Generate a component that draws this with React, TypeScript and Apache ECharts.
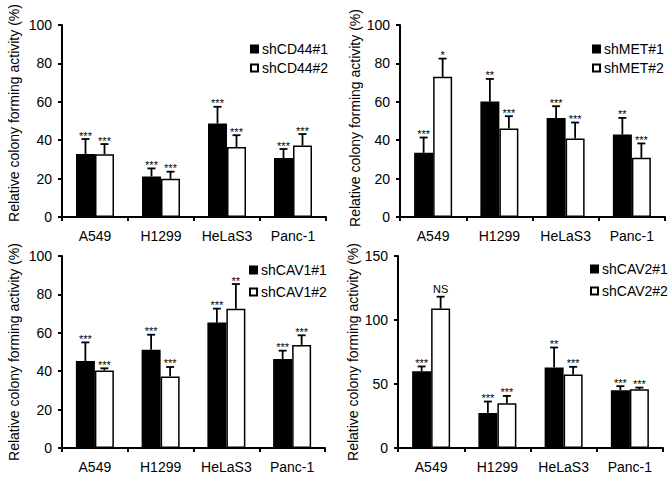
import React, { useEffect, useRef } from "react";
import * as echarts from "echarts";

const categories = ["A549", "H1299", "HeLaS3", "Panc-1"];

// Panel A: shCD44
const cd44Names = ["shCD44#1", "shCD44#2"];
const cd44First = [32.8, 21.1, 48.7, 30.7];
const cd44FirstSd = [7.8, 4.2, 8.7, 4.7];
const cd44Second = [32.7, 19.9, 36.4, 37.3];
const cd44SecondSd = [5.3, 3.7, 6.2, 5.9];
const cd44FirstSig = ["***", "***", "***", "***"];
const cd44SecondSig = ["***", "***", "***", "***"];

// Panel B: shMET
const metNames = ["shMET#1", "shMET#2"];
const metFirst = [33.4, 60.1, 51.5, 43.0];
const metFirstSd = [8.0, 11.8, 6.2, 8.6];
const metSecond = [73.0, 46.1, 40.9, 30.8];
const metSecondSd = [9.5, 6.4, 8.3, 7.5];
const metFirstSig = ["***", "**", "***", "**"];
const metSecondSig = ["*", "***", "***", "***"];

// Panel C: shCAV1
const cav1Names = ["shCAV1#1", "shCAV1#2"];
const cav1First = [45.3, 51.2, 65.3, 46.3];
const cav1FirstSd = [9.7, 7.8, 7.3, 4.4];
const cav1Second = [40.4, 37.3, 72.5, 53.7];
const cav1SecondSd = [1.1, 4.9, 12.9, 5.0];
const cav1FirstSig = ["***", "***", "***", "***"];
const cav1SecondSig = ["***", "***", "**", "***"];

// Panel D: shCAV2
const cav2Names = ["shCAV2#1", "shCAV2#2"];
const cav2First = [60.0, 27.4, 62.9, 45.1];
const cav2FirstSd = [3.7, 8.9, 15.6, 3.2];
const cav2Second = [109.0, 35.0, 57.4, 45.9];
const cav2SecondSd = [9.2, 5.7, 6.0, 1.3];
const cav2FirstSig = ["***", "***", "**", "***"];
const cav2SecondSig = ["NS", "***", "***", "***"];

const yMaxes = [100, 100, 100, 150];
const yIntervals = [20, 20, 20, 50];
const yTitle = "Relative colony forming activity (%)";

const FONT = "'Liberation Sans', Arial, Helvetica, sans-serif";
const BAR_W = 19;

const panels = [
  { names: cd44Names, a: cd44First, aSd: cd44FirstSd, b: cd44Second, bSd: cd44SecondSd, aSig: cd44FirstSig, bSig: cd44SecondSig },
  { names: metNames, a: metFirst, aSd: metFirstSd, b: metSecond, bSd: metSecondSd, aSig: metFirstSig, bSig: metSecondSig },
  { names: cav1Names, a: cav1First, aSd: cav1FirstSd, b: cav1Second, bSd: cav1SecondSd, aSig: cav1FirstSig, bSig: cav1SecondSig },
  { names: cav2Names, a: cav2First, aSd: cav2FirstSd, b: cav2Second, bSd: cav2SecondSd, aSig: cav2FirstSig, bSig: cav2SecondSig },
];

const gridBoxes = [
  { left: 62, top: 25, width: 264, height: 192 },
  { left: 400, top: 25, width: 265, height: 192 },
  { left: 62, top: 256, width: 263, height: 192 },
  { left: 398, top: 256, width: 265, height: 192 },
];

const legendBoxes = [
  { left: 250, top: 42, itemGap: 5 },
  { left: 592, top: 42, itemGap: 5 },
  { left: 249, top: 263, itemGap: 8 },
  { left: 590, top: 262, itemGap: 8 },
];

// shift of the rotated y-axis title along the axis (px, upward)
const titleShift = [16, 6, 0, 0];

function errorSeries(idx: number, values: number[], sds: number[], sigs: string[], offset: number) {
  return {
    type: "custom",
    xAxisIndex: idx,
    yAxisIndex: idx,
    z: 5,
    silent: true,
    itemStyle: { color: "#000" },
    data: values.map((v, i) => [i, v, sds[i]]),
    renderItem: (params: any, api: any) => {
      const cat = api.value(0);
      const v = api.value(1);
      const sd = api.value(2);
      const base = api.coord([cat, v]);
      const top = api.coord([cat, v + sd]);
      const x = base[0] + offset;
      const sig = sigs[params.dataIndex];
      const stroke = { stroke: "#000", lineWidth: 1.8 };
      return {
        type: "group",
        children: [
          { type: "line", shape: { x1: x, y1: base[1], x2: x, y2: top[1] }, style: stroke },
          { type: "line", shape: { x1: x - 4, y1: top[1], x2: x + 4, y2: top[1] }, style: stroke },
          {
            type: "text",
            x: x,
            y: top[1] - (sig === "NS" ? 8 : 3.5),
            style: {
              text: sig,
              fill: "#000",
              stroke: "none",
              lineWidth: 0,
              fontSize: 11,
              fontFamily: FONT,
              align: "center",
              verticalAlign: "middle",
            },
          },
        ],
      };
    },
  };
}

export default function App() {
  const ref = useRef<HTMLDivElement>(null);
  useEffect(() => {
    document.body.style.margin = "0";
    const chart = echarts.init(ref.current!, null, { renderer: "svg" });
    const axisLine = { show: true, lineStyle: { color: "#000", width: 2 } };
    const option: any = {
      animation: false,
      backgroundColor: "#fff",
      color: ["#000", "#000"],
      textStyle: { fontFamily: FONT, color: "#000" },
      grid: gridBoxes.map((g) => ({ ...g, containLabel: false })),
      legend: panels.map((p, i) => ({
        data: p.names,
        orient: "vertical",
        left: legendBoxes[i].left,
        top: legendBoxes[i].top,
        itemGap: legendBoxes[i].itemGap,
        itemWidth: 7,
        itemHeight: 7,
        icon: "rect",
        padding: 0,
        selectedMode: false,
        textStyle: { fontSize: 14, color: "#000", fontFamily: FONT, padding: [0, 0, 0, -1] },
      })),
      xAxis: panels.map((_, i) => ({
        type: "category",
        gridIndex: i,
        data: categories,
        axisLine,
        axisTick: { show: true, length: 4, lineStyle: { color: "#000", width: 2 } },
        axisLabel: { color: "#000", fontSize: 14, fontFamily: FONT, margin: 12, interval: 0 },
        splitLine: { show: false },
      })),
      yAxis: panels.map((_, i) => ({
        type: "value",
        gridIndex: i,
        min: 0,
        max: yMaxes[i],
        interval: yIntervals[i],
        name: yTitle,
        nameLocation: "middle",
        nameGap: i % 2 === 0 ? 41 : 38,
        nameTextStyle: {
          fontSize: 14,
          color: "#000",
          fontFamily: FONT,
          padding: [0, 0, 0, titleShift[i]],
        },
        axisLine,
        axisTick: { show: true, length: 4, lineStyle: { color: "#000", width: 2 } },
        axisLabel: { color: "#000", fontSize: 14, fontFamily: FONT, margin: 10 },
        splitLine: { show: false },
      })),
      series: panels.flatMap((p, i) => [
        {
          type: "bar",
          name: p.names[0],
          xAxisIndex: i,
          yAxisIndex: i,
          data: p.a,
          barWidth: BAR_W,
          barGap: "0%",
          itemStyle: { color: "#000", borderColor: "#000", borderWidth: 1.5 },
        },
        {
          type: "bar",
          name: p.names[1],
          xAxisIndex: i,
          yAxisIndex: i,
          data: p.b,
          barWidth: BAR_W,
          barGap: "0%",
          itemStyle: { color: "#fff", borderColor: "#000", borderWidth: 1.5 },
        },
        errorSeries(i, p.a, p.aSd, p.aSig, -BAR_W / 2),
        errorSeries(i, p.b, p.bSd, p.bSig, BAR_W / 2),
      ]),
    };
    chart.setOption(option);
    return () => chart.dispose();
  }, []);
  return <div ref={ref} style={{ width: 670, height: 477 }} />;
}
